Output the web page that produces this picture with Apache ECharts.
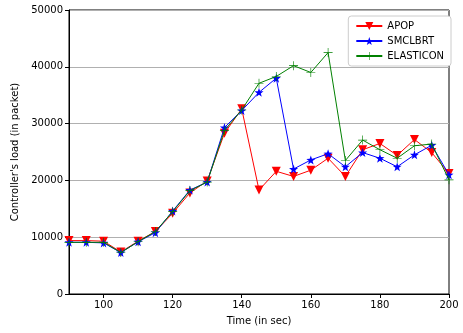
<!DOCTYPE html>
<html>
<head>
<meta charset="utf-8">
<script src="https://cdn.jsdelivr.net/npm/echarts@6/dist/echarts.min.js"></script>
<style>html,body{margin:0;padding:0;background:#fff;}#c{width:463px;height:333px;}</style>
</head>
<body>
<div id="c"></div>
<script>
const times = [90,95,100,105,110,115,120,125,130,135,140,145,150,155,160,165,170,175,180,185,190,195,200];
const apop = [9400,9400,9300,7400,9300,11000,14200,17800,19900,28300,32600,18300,21600,20700,21800,23900,20700,25400,26500,24400,27200,24900,21200];
const smclbrt = [9100,9100,9000,7300,9200,10800,14600,18300,19700,29300,32300,35500,38000,22000,23600,24700,22400,24900,23900,22400,24500,26200,21000];
const elasticon = [9100,9100,9100,7300,9200,11000,14500,18200,19700,28800,32400,37100,38300,40200,39000,42500,23500,27100,25400,23900,26100,26400,20100];
const xTicks = [100,120,140,160,180,200];
const seriesNames = ['APOP','SMCLBRT','ELASTICON'];

const starPath = 'path://M0,-10 L2.35,-3.24 L9.51,-3.09 L3.8,1.24 L5.88,8.09 L0,4 L-5.88,8.09 L-3.8,1.24 L-9.51,-3.09 L-2.35,-3.24 Z';
const plusPath = 'path://M-0.7,-10 L0.7,-10 L0.7,-0.7 L10,-0.7 L10,0.7 L0.7,0.7 L0.7,10 L-0.7,10 L-0.7,0.7 L-10,0.7 L-10,-0.7 L-0.7,-0.7 Z';

function pairs(arr){ return times.map((t,i)=>[t,arr[i]]); }
const font = 'DejaVu Sans';
const chart = echarts.init(document.getElementById('c'), null, {renderer:'canvas'});
chart.setOption({
  animation:false,
  textStyle:{fontFamily:font},
  grid:{left:69,right:14,top:10,bottom:39,show:true,borderColor:'#000',borderWidth:1,backgroundColor:'transparent'},
  legend:{
    right:12,top:16,orient:'vertical',itemGap:5,itemWidth:26,itemHeight:10,
    backgroundColor:'#fff',borderColor:'#ccc',borderWidth:1,borderRadius:3,padding:[5,7,5,7],
    textStyle:{fontFamily:font,fontSize:10,color:'#000'},
    data:seriesNames
  },
  xAxis:{
    type:'value',min:90,max:200,
    name:'Time (in sec)',nameLocation:'middle',nameGap:22,
    nameTextStyle:{fontFamily:font,fontSize:10,color:'#000'},
    axisLine:{show:true,lineStyle:{color:'#000',width:1}},
    axisTick:{show:true,length:4,lineStyle:{color:'#000'},customValues:xTicks},
    axisLabel:{fontFamily:font,fontSize:10,color:'#000',margin:6,customValues:xTicks},
    splitLine:{show:false}
  },
  yAxis:{
    type:'value',min:0,max:50000,interval:10000,
    name:"Controller's load (in packet)",nameLocation:'middle',nameGap:43,
    nameTextStyle:{fontFamily:font,fontSize:10,color:'#000'},
    axisLine:{show:true,lineStyle:{color:'#000',width:1}},
    axisTick:{show:true,length:4,lineStyle:{color:'#000'}},
    axisLabel:{fontFamily:font,fontSize:10,color:'#000',margin:6,formatter:v=>String(v)},
    splitLine:{show:true,lineStyle:{color:'#b0b0b0',width:1}}
  },
  series:[
    {name:seriesNames[0],type:'line',data:pairs(apop),symbol:'triangle',symbolRotate:180,symbolSize:9,
     lineStyle:{color:'#ff0000',width:1},itemStyle:{color:'#ff0000'},z:2},
    {name:seriesNames[1],type:'line',data:pairs(smclbrt),symbol:starPath,symbolSize:9,
     lineStyle:{color:'#0000ff',width:1},itemStyle:{color:'#0000ff'},z:3},
    {name:seriesNames[2],type:'line',data:pairs(elasticon),symbol:plusPath,symbolSize:9,
     lineStyle:{color:'#008000',width:1},itemStyle:{color:'#008000'},z:4}
  ]
});
</script>
</body>
</html>
